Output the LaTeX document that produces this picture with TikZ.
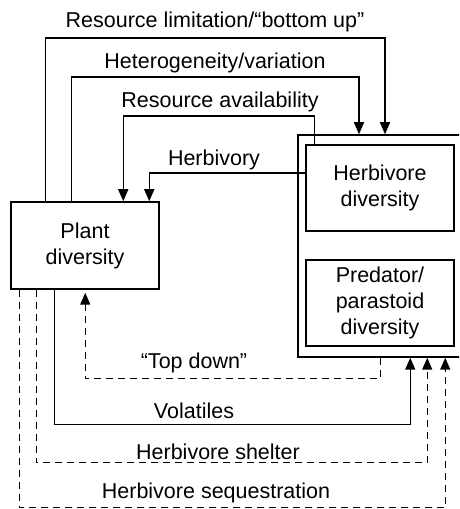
\documentclass[tikz,border=0pt]{standalone}
\usepackage{fontspec}
\setmainfont{Liberation Sans}
\usetikzlibrary{arrows.meta, positioning}
\tikzset{
  box/.style={rectangle, draw=black, line width=1.5pt, minimum width=148pt, minimum height=86pt, align=center, text centered, font=\fontsize{21.5}{26}\selectfont},
  group/.style={rectangle, draw=black, line width=1.5pt, minimum width=172pt, minimum height=222pt},
  lbl/.style={font=\fontsize{21.5}{26}\selectfont, inner sep=0pt},
  arrow/.style={line width=1.5pt, -{Triangle[length=12pt, width=10pt]}},
  dasharrow/.style={arrow, dash pattern=on 7pt off 5pt}
}
\begin{document}
\begin{tikzpicture}[x=1pt, y=1pt]

  \useasboundingbox (0,0) rectangle (459,509);
  \clip (0,0) rectangle (459,509);

  \node (group) [group] at (384,263) {};
  \node (herb) [box] at (380,321) {Herbivore\\diversity};
  \node (pred) [box] at (380,206) {Predator/\\parastoid\\diversity};
  \node (plant) [box, minimum height=87pt] at (85,263.5) {Plant\\diversity};

  \node (lbllimit) [lbl] at (215,487) {Resource limitation/“bottom up”};
  \node (lblhetero) [lbl] at (215,446) {Heterogeneity/variation};
  \node (lblavail) [lbl] at (220,407) {Resource availability};
  \node (lblherbiv) [lbl] at (214,349) {Herbivory};
  \node (lbltop) [lbl] at (194,146) {“Top down”};
  \node (lblvolat) [lbl] at (194,98) {Volatiles};
  \node (lblshelter) [lbl] at (218,57) {Herbivore shelter};
  \node (lblseq) [lbl] at (216,16) {Herbivore sequestration};

  \draw [arrow] ([xshift=35]plant.north west) -- ++(0,163) -| ([xshift=1]group.north);
  \draw [arrow] ([xshift=61]plant.north west) -- ++(0,124) -| ([xshift=-25]group.north);
  \draw [arrow] ([xshift=9]herb.north west) -- ++(0,28) -| ([xshift=113]plant.north west);
  \draw [arrow] ([yshift=15]herb.west) -| ([xshift=139]plant.north west);
  \draw [dasharrow, shorten >=3pt] ([xshift=83]group.south west) -- ++(0,-21) -| ([xshift=75]plant.south west);
  \draw [arrow] ([xshift=44]plant.south west) -- ++(0,-135) -| ([xshift=113]group.south west);
  \draw [dasharrow] ([xshift=26]plant.south west) -- ++(0,-173) -| ([xshift=130]group.south west);
  \draw [dasharrow] ([xshift=9]plant.south west) -- ++(0,-218) -| ([xshift=148]group.south west);

\end{tikzpicture}
\end{document}
